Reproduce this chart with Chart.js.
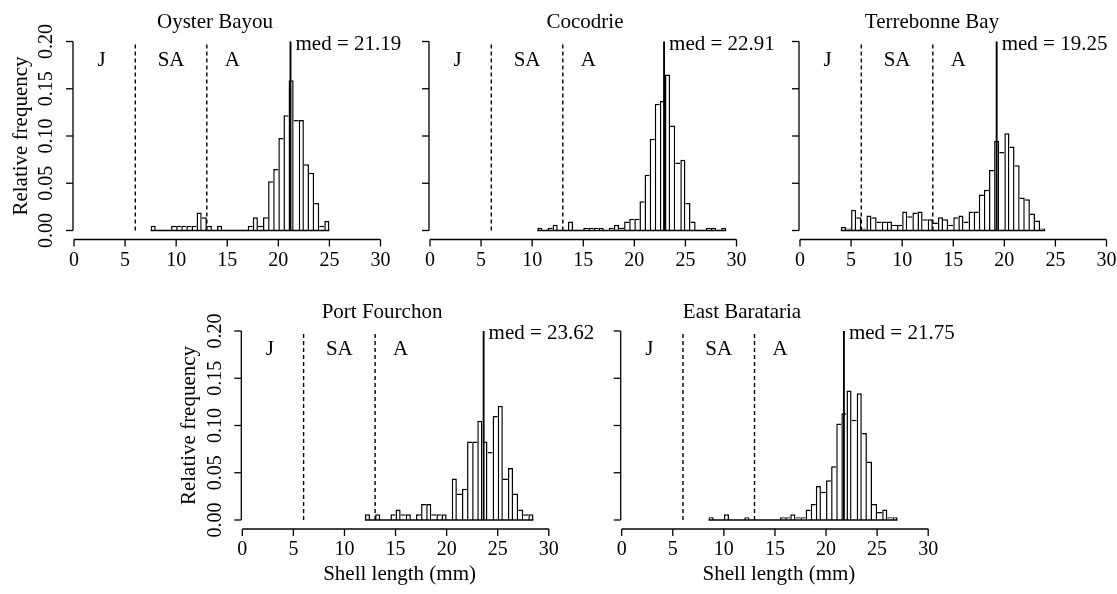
<!DOCTYPE html>
<html><head><meta charset="utf-8">
<script src="https://cdn.jsdelivr.net/npm/chart.js@4/dist/chart.umd.min.js"></script>
<style>
html,body{margin:0;padding:0;background:#fff;}
#wrap{position:relative;width:1117px;height:594px;overflow:hidden;background:#fff;}
#wrap canvas{position:absolute;left:0;top:0;}
</style>
</head><body><div id="wrap"></div>
<script>
// ---------- DATA ----------
const siteNames = ["Oyster Bayou", "Cocodrie", "Terrebonne Bay", "Port Fourchon", "East Barataria"];
const binWidth = 0.5;

const oysterBayouStart = 7.5;
const oysterBayouFreq = [0.005, 0, 0, 0, 0.005, 0.005, 0.005, 0.005, 0.005, 0.019, 0.014, 0.005, 0, 0.005,
  0, 0, 0, 0, 0, 0.005, 0.014, 0.005, 0.014, 0.052, 0.065, 0.098, 0.122, 0.159, 0.117, 0.117, 0.070, 0.061,
  0.029, 0.005, 0.010];

const cocodrieStart = 10.5;
const cocodrieFreq = [0.003, 0, 0.003, 0.006, 0, 0, 0.0095, 0, 0, 0.003, 0.003, 0.003, 0.003, 0, 0.003, 0.006,
  0.003, 0.0095, 0.0125, 0.0125, 0.031, 0.059, 0.097, 0.134, 0.137, 0.165, 0.111, 0.072, 0.075, 0.029, 0.0095,
  0, 0, 0.003, 0.003, 0, 0.003];

const terrebonneStart = 4.0;
const terrebonneFreq = [0.004, 0.002, 0.022, 0.014, 0.002, 0.016, 0.014, 0.0095, 0.0095, 0.0095, 0.006, 0.006,
  0.020, 0.015, 0.019, 0.020, 0.012, 0.012, 0.0084, 0.014, 0.012, 0.006, 0.014, 0.016, 0.0095, 0.020, 0.020,
  0.038, 0.043, 0.064, 0.095, 0.083, 0.103, 0.089, 0.069, 0.035, 0.033, 0.018, 0.0105, 0.002];

const portFourchonStart = 12.0;
const portFourchonFreq = [0.006, 0, 0.006, 0, 0, 0.006, 0.011, 0.006, 0.006, 0, 0.006, 0.017, 0.017, 0.006,
  0.006, 0.006, 0, 0.044, 0.028, 0.033, 0.083, 0.083, 0.105, 0.083, 0.072, 0.110, 0.121, 0.044, 0.055, 0.028,
  0.011, 0.006, 0.006];

const eastBaratariaStart = 8.5;
const eastBaratariaFreq = [0.003, 0, 0, 0.006, 0, 0, 0, 0.003, 0, 0, 0, 0, 0, 0, 0.003, 0.003, 0.006, 0.003,
  0.003, 0.011, 0.017, 0.036, 0.030, 0.042, 0.057, 0.102, 0.113, 0.137, 0.106, 0.134, 0.092, 0.062, 0.017,
  0.0085, 0.011, 0.003, 0.003];

const binStarts = [oysterBayouStart, cocodrieStart, terrebonneStart, portFourchonStart, eastBaratariaStart];
const frequencies = [oysterBayouFreq, cocodrieFreq, terrebonneFreq, portFourchonFreq, eastBaratariaFreq];
const medians = [21.19, 22.91, 19.25, 23.62, 21.75];

const stageLabels = ["J", "SA", "A"];
const stageLabelX = [2.7, 9.5, 15.5];
const stageLabelY = 0.18;
const stageBounds = [6, 13];

const xTicks = [0, 5, 10, 15, 20, 25, 30];
const yTicks = [0, 0.05, 0.10, 0.15, 0.20];
const yTickLabels = ["0.00", "0.05", "0.10", "0.15", "0.20"];
const xTitle = "Shell length (mm)";
const yTitle = "Relative frequency";

// ---------- LAYOUT (pixels) ----------
const W = 1117, H = 594;
const plotW = 306.5, plotH = 189;
const frames = [
  { left: 74,    bottom: 230.5, titleX: 215, showY: true,  showXTitle: false },
  { left: 430,   bottom: 230.5, titleX: 585, showY: false, showXTitle: false },
  { left: 800,   bottom: 230.5, titleX: 932, showY: false, showXTitle: false },
  { left: 242.3, bottom: 520,   titleX: 382, showY: true,  showXTitle: true  },
  { left: 621.7, bottom: 520,   titleX: 742, showY: false, showXTitle: true  }
];
const FONT = '"Liberation Serif", "Times New Roman", serif';
const BW = 1.5;

const wrap = document.getElementById('wrap');

function seg(ctx, x1, y1, x2, y2) {
  ctx.beginPath(); ctx.moveTo(x1, y1); ctx.lineTo(x2, y2); ctx.stroke();
}

const decorPlugin = {
  id: 'decor',
  afterDatasetsDraw(chart, args, opts) {
    const i = opts.panel;
    const f = frames[i];
    const ctx = chart.ctx;
    const xs = chart.scales.x, ys = chart.scales.y;
    const X = v => xs.getPixelForValue(v);
    const Y = v => ys.getPixelForValue(v);
    ctx.save();
    ctx.strokeStyle = '#000';
    ctx.fillStyle = '#000';

    // stage boundaries (dashed)
    ctx.lineWidth = 1.4;
    ctx.setLineDash([4, 3]);
    stageBounds.forEach(b => seg(ctx, X(b), Y(0), X(b), Y(0.2)));
    ctx.setLineDash([]);

    // median line
    ctx.lineWidth = 1.9;
    seg(ctx, X(medians[i]), Y(0), X(medians[i]), Y(0.2));

    // stage labels
    ctx.font = '21px ' + FONT;
    ctx.textAlign = 'center';
    ctx.textBaseline = 'middle';
    stageLabels.forEach((s, j) => ctx.fillText(s, X(stageLabelX[j]), Y(stageLabelY)));

    // median text
    ctx.textAlign = 'left';
    ctx.textBaseline = 'alphabetic';
    ctx.fillText('med = ' + medians[i].toFixed(2), X(medians[i]) + 5, Y(0.2) + 8);

    // title
    ctx.textAlign = 'center';
    ctx.fillText(siteNames[i], f.titleX, Y(0.2) - 13.5);

    // x axis
    ctx.lineWidth = 1.3;
    const ax = Y(0) + 9;
    seg(ctx, X(xTicks[0]), ax, X(xTicks[xTicks.length - 1]), ax);
    ctx.font = '20px ' + FONT;
    ctx.textBaseline = 'middle';
    xTicks.forEach(t => {
      seg(ctx, X(t), ax, X(t), ax + 7);
      ctx.fillText(String(t), X(t), ax + 21);
    });

    // y axis
    const ay = X(0) - 1;
    seg(ctx, ay, Y(yTicks[0]), ay, Y(yTicks[yTicks.length - 1]));
    yTicks.forEach((t, k) => {
      seg(ctx, ay, Y(t), ay - 7, Y(t));
      if (f.showY) {
        ctx.save();
        ctx.translate(ay - 26, Y(t));
        ctx.rotate(-Math.PI / 2);
        ctx.fillText(yTickLabels[k], 0, 0);
        ctx.restore();
      }
    });
    if (f.showY) {
      ctx.save();
      ctx.font = '21px ' + FONT;
      ctx.translate(ay - 52, (Y(0) + Y(0.2)) / 2);
      ctx.rotate(-Math.PI / 2);
      ctx.fillText(yTitle, 0, 0);
      ctx.restore();
    }
    if (f.showXTitle) {
      ctx.font = '21px ' + FONT;
      ctx.fillText(xTitle, X(15) + 4, Y(0) + 54);
    }
    ctx.restore();
  }
};

frames.forEach((f, i) => {
  const canvas = document.createElement('canvas');
  canvas.width = W; canvas.height = H;
  canvas.style.width = W + 'px'; canvas.style.height = H + 'px';
  wrap.appendChild(canvas);
  const start = binStarts[i];
  const freq = frequencies[i];
  const barData = freq.map((v, k) => ({ x: start + (k + 0.5) * binWidth, y: v }));
  const baseData = [{ x: start, y: 0 }, { x: start + freq.length * binWidth, y: 0 }];
  new Chart(canvas, {
    data: {
      datasets: [
        {
          type: 'bar',
          data: barData,
          backgroundColor: '#ffffff',
          borderColor: '#000000',
          barPercentage: 1,
          categoryPercentage: 1,
          inflateAmount: 0,
          borderSkipped: 'start',
          borderWidth: (c) => {
            const d = c.dataset.data, k = c.dataIndex;
            if (k === undefined || !d[k]) return 0;
            const v = d[k].y;
            const prev = k > 0 ? d[k - 1].y : 0;
            const next = k < d.length - 1 ? d[k + 1].y : 0;
            return { top: BW, bottom: 0, left: prev <= v ? BW : 0, right: next < v ? BW : 0 };
          },
          order: 2
        },
        {
          type: 'line',
          data: baseData,
          borderColor: '#000000',
          borderWidth: 1.5,
          pointRadius: 0,
          clip: false,
          order: 1
        }
      ]
    },
    options: {
      responsive: false,
      animation: false,
      devicePixelRatio: 1,
      layout: {
        padding: { left: f.left, right: W - f.left - plotW, top: f.bottom - plotH, bottom: H - f.bottom }
      },
      scales: {
        x: { type: 'linear', min: 0, max: 30, display: false, offset: false },
        y: { type: 'linear', min: 0, max: 0.2, display: false }
      },
      plugins: {
        legend: { display: false },
        tooltip: { enabled: false },
        decor: { panel: i }
      },
      events: []
    },
    plugins: [decorPlugin]
  });
});
</script>
</body></html>
